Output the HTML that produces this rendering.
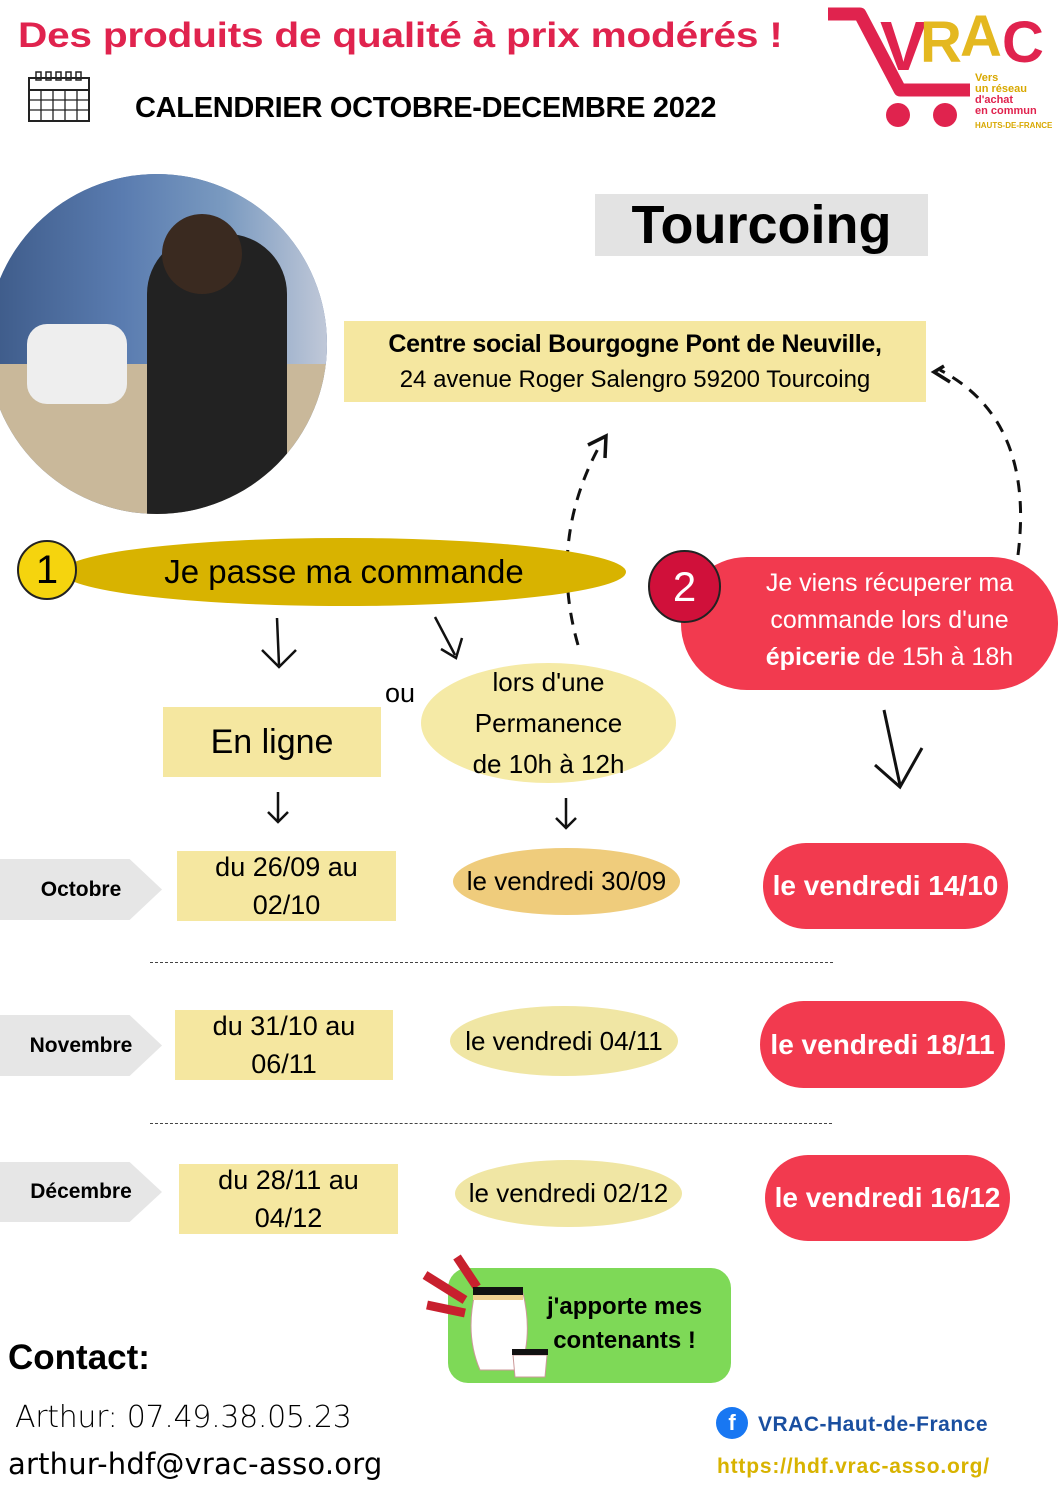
<!DOCTYPE html>
<html><head><meta charset="utf-8"><style>
body{margin:0;width:1059px;height:1497px;position:relative;background:#fff;font-family:"Liberation Sans",sans-serif;overflow:hidden}
.a{position:absolute}
.c{display:flex;align-items:center;justify-content:center;text-align:center}
.ly{background:#f5e7a0}
.red{background:#f23a4f;color:#fff;font-weight:bold;border-radius:45px}
.month{background:#e6e6e6;font-weight:bold;font-size:21px;clip-path:polygon(0 0,80% 0,100% 50%,80% 100%,0 100%)}
.dash{border-top:1.5px dashed #444;height:0}
</style></head><body>
<div class="a" style="left:18px;top:16px;font-size:35px;font-weight:bold;color:#e0234e;letter-spacing:-0.2px;transform:scaleX(1.16);transform-origin:left">Des produits de qualité à prix modérés !</div>
<svg class="a" style="left:26px;top:70px" width="66" height="54"><rect x="3" y="8" width="60" height="43" fill="none" stroke="#222" stroke-width="2"/><line x1="3" y1="20" x2="63" y2="20" stroke="#222" stroke-width="2"/><g stroke="#222" stroke-width="1.3"><line x1="3" y1="30" x2="63" y2="30"/><line x1="3" y1="40" x2="63" y2="40"/><line x1="15" y1="20" x2="15" y2="51"/><line x1="27" y1="20" x2="27" y2="51"/><line x1="39" y1="20" x2="39" y2="51"/><line x1="51" y1="20" x2="51" y2="51"/></g><g fill="none" stroke="#222" stroke-width="1.5"><rect x="10" y="2" width="5" height="8"/><rect x="20" y="2" width="5" height="8"/><rect x="30" y="2" width="5" height="8"/><rect x="40" y="2" width="5" height="8"/><rect x="50" y="2" width="5" height="8"/></g></svg>
<div class="a" style="left:135px;top:92px;font-size:29px;font-weight:bold;letter-spacing:-0.3px;transform:scaleX(1.0);transform-origin:left">CALENDRIER OCTOBRE-DECEMBRE 2022</div>
<!-- logo -->
<svg class="a" style="left:820px;top:0" width="239" height="140">
<path d="M8 14 L40 14 L80 90 L150 90" fill="none" stroke="#e0234e" stroke-width="13" stroke-linejoin="round"/>
<circle cx="78" cy="115" r="12" fill="#e0234e"/><circle cx="125" cy="115" r="12" fill="#e0234e"/>
<text x="60" y="70" font-family="Liberation Sans" font-weight="bold" font-size="70" fill="#e0234e">V</text>
<text x="100" y="62" font-family="Liberation Sans" font-weight="bold" font-size="58" fill="#e4b820">R</text>
<text x="140" y="56" font-family="Liberation Sans" font-weight="bold" font-size="58" fill="#e4b820">A</text>
<text x="182" y="62" font-family="Liberation Sans" font-weight="bold" font-size="58" fill="#e0234e">C</text>
<g font-family="Liberation Sans" font-weight="bold" font-size="11"><text x="155" y="81" fill="#d8a800">Vers</text><text x="155" y="92" fill="#d8a800">un réseau</text><text x="155" y="103" fill="#e0234e">d'achat</text><text x="155" y="114" fill="#e0234e">en commun</text><text x="155" y="128" font-size="8" fill="#d8a800">HAUTS-DE-FRANCE</text></g>
</svg>
<!-- photo -->
<div class="a" style="left:-13px;top:174px;width:340px;height:340px;border-radius:50%;overflow:hidden;background:#4a6a9a">
<div class="a" style="left:0;top:0;width:340px;height:200px;background:linear-gradient(90deg,#3d5a88,#5a7cb0 40%,#7a9ac0 70%,#c0c8d8)"></div>
<div class="a" style="left:0;top:190px;width:340px;height:150px;background:#c9b89a"></div>
<div class="a" style="left:160px;top:60px;width:140px;height:280px;background:#222;border-radius:60px 60px 0 0"></div>
<div class="a" style="left:175px;top:40px;width:80px;height:80px;background:#3a2a20;border-radius:50%"></div>
<div class="a" style="left:40px;top:150px;width:100px;height:80px;background:#eee;border-radius:20px"></div>
</div>
<div class="a c" style="left:595px;top:194px;width:333px;height:62px;background:#e3e3e3;font-size:54px;font-weight:bold">Tourcoing</div>
<div class="a c ly" style="left:344px;top:321px;width:582px;height:81px;flex-direction:column;font-size:24px;line-height:36px"><b style="font-size:25px;letter-spacing:-0.3px">Centre social Bourgogne Pont de Neuville,</b><span>24 avenue Roger Salengro 59200 Tourcoing</span></div>
<!-- arrows -->
<svg class="a" style="left:0;top:0" width="1059" height="1497">
<g fill="none" stroke="#111" stroke-width="3" stroke-dasharray="12,9">
<path d="M578 645 Q548 540 600 445"/>
<path d="M1018 555 Q1035 420 940 370"/>
</g>
<g fill="none" stroke="#111" stroke-width="3.5"><path d="M588 445 L606 436 L605 458"/><path d="M944 366 L934 372 L950 382"/></g>
<g fill="none" stroke="#111" stroke-width="2.5">
<path d="M277 618 L279 665 M262 650 L279 667 L296 650"/>
<path d="M435 617 L455 655 M441 649 L456 658 L462 638"/>
<path d="M278 792 L278 822 M268 812 L278 822 L288 812"/>
<path d="M566 798 L566 828 M556 818 L566 828 L576 818"/>
<path d="M884 710 L900 785 M875 765 L900 787 L922 748" stroke-width="3"/>
</g></svg>
<div class="a c" style="left:62px;top:538px;width:564px;height:68px;border-radius:50%;background:#d8b300;font-size:33px">Je passe ma commande</div>
<div class="a c" style="left:17px;top:540px;width:60px;height:60px;border-radius:50%;background:#f5d40e;border:2px solid #222;box-sizing:border-box;font-size:40px">1</div>
<div class="a red" style="left:681px;top:557px;width:377px;height:133px;border-radius:66px;font-weight:normal;font-size:25px;line-height:37px;padding:8px 0 0 40px;box-sizing:border-box;text-align:center">Je viens récuperer ma<br>commande lors d'une<br><b>épicerie</b> de 15h à 18h</div>
<div class="a c" style="left:648px;top:550px;width:73px;height:73px;border-radius:50%;background:#d0103a;border:2px solid #222;box-sizing:border-box;color:#fff;font-size:42px">2</div>
<div class="a" style="left:385px;top:678px;font-size:27px">ou</div>
<div class="a c ly" style="left:163px;top:707px;width:218px;height:70px;font-size:34px">En ligne</div>
<div class="a c" style="left:421px;top:663px;width:255px;height:120px;border-radius:50%;background:#f5eaa6;font-size:26px;line-height:41px">lors d'une<br>Permanence<br>de 10h à 12h</div>
<!-- rows -->
<div class="a c month" style="left:0;top:859px;width:162px;height:61px">Octobre</div>
<div class="a c ly" style="left:177px;top:851px;width:219px;height:70px;font-size:27px;line-height:38px">du 26/09 au<br>02/10</div>
<div class="a c" style="left:453px;top:848px;width:227px;height:67px;border-radius:50%;background:#efcc7c;font-size:26px">le vendredi 30/09</div>
<div class="a c red" style="left:763px;top:843px;width:245px;height:86px;font-size:28px">le vendredi 14/10</div>
<div class="a dash" style="left:150px;top:962px;width:683px"></div>
<div class="a c month" style="left:0;top:1015px;width:162px;height:61px">Novembre</div>
<div class="a c ly" style="left:175px;top:1010px;width:218px;height:70px;font-size:27px;line-height:38px">du 31/10 au<br>06/11</div>
<div class="a c" style="left:450px;top:1006px;width:228px;height:70px;border-radius:50%;background:#f0e6a4;font-size:26px">le vendredi 04/11</div>
<div class="a c red" style="left:760px;top:1001px;width:245px;height:87px;font-size:28px">le vendredi 18/11</div>
<div class="a dash" style="left:150px;top:1123px;width:682px"></div>
<div class="a c month" style="left:0;top:1162px;width:162px;height:60px">Décembre</div>
<div class="a c ly" style="left:179px;top:1164px;width:219px;height:70px;font-size:27px;line-height:38px">du 28/11 au<br>04/12</div>
<div class="a c" style="left:455px;top:1160px;width:227px;height:67px;border-radius:50%;background:#f0e6a4;font-size:26px">le vendredi 02/12</div>
<div class="a c red" style="left:765px;top:1155px;width:245px;height:86px;font-size:28px">le vendredi 16/12</div>
<!-- contenants -->
<div class="a" style="left:448px;top:1268px;width:283px;height:115px;border-radius:20px;background:#7ed957"></div>
<svg class="a" style="left:415px;top:1245px" width="140" height="135">
<g stroke="#c8202e" stroke-width="9"><line x1="12" y1="60" x2="50" y2="68"/><line x1="10" y1="30" x2="50" y2="55"/><line x1="42" y1="12" x2="62" y2="42"/></g>
<path d="M60 48 L108 48 Q118 90 105 125 L65 125 Q50 90 60 48Z" fill="#fff" stroke="#c99" stroke-width="1"/>
<rect x="58" y="42" width="50" height="8" fill="#111"/><rect x="58" y="50" width="50" height="5" fill="#f0d090"/>
<path d="M98 110 L132 110 L130 132 L100 132Z" fill="#fff" stroke="#c99"/><rect x="97" y="104" width="36" height="6" fill="#111"/>
</svg>
<div class="a" style="left:547px;top:1290px;font-size:24px;font-weight:bold;line-height:34px;text-align:center">j'apporte mes<br>contenants !</div>
<div class="a" style="left:8px;top:1338px;font-size:35px;font-weight:bold">Contact:</div>
<div class="a" style="left:15px;top:1400px;font-size:30px;font-family:'DejaVu Sans',sans-serif;font-weight:300;letter-spacing:-0.3px">Arthur: 07.49.38.05.23</div>
<div class="a" style="left:8px;top:1447px;font-size:29px;font-family:'DejaVu Sans',sans-serif;letter-spacing:0.2px">arthur-hdf@vrac-asso.org</div>
<div class="a c" style="left:716px;top:1407px;width:32px;height:32px;border-radius:50%;background:#1877f2;color:#fff;font-weight:bold;font-size:22px">f</div>
<div class="a" style="left:758px;top:1413px;font-size:21px;font-weight:bold;color:#1a4fa0;letter-spacing:0.5px">VRAC-Haut-de-France</div>
<div class="a" style="left:717px;top:1455px;font-size:21px;font-weight:bold;color:#d8b300;letter-spacing:0.8px">https://hdf.vrac-asso.org/</div>
</body></html>
